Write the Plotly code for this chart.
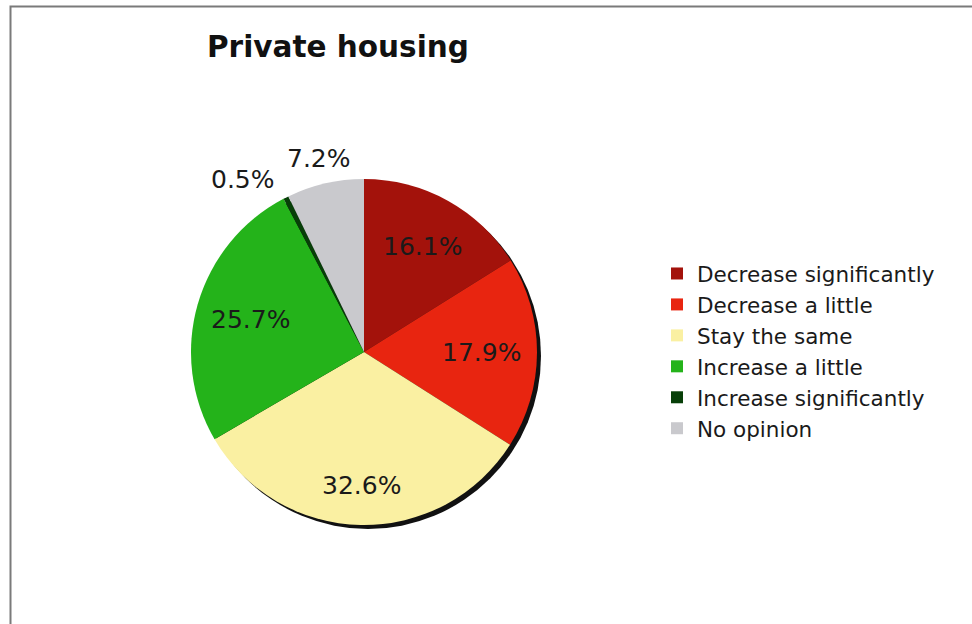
import math
import plotly.graph_objects as go

categories = ["Decrease significantly", "Decrease a little", "Stay the same",
              "Increase a little", "Increase significantly", "No opinion"]
values = [16.1, 17.9, 32.6, 25.7, 0.5, 7.2]
colors = ["#A3120B", "#E82510", "#FAF0A2", "#24B31A", "#073F08", "#C9C9CD"]

# label radius (fraction of pie radius) – styling only
label_radius = [0.70, 0.68, 0.77, 0.68, 1.12, 1.15]

W, H = 972, 624
cx, cy, r = 364, 352, 173

def dom(dx=0, dy=0):
    return dict(x=[(cx - r + dx) / W, (cx + r + dx) / W],
                y=[(H - cy - r - dy) / H, (H - cy + r - dy) / H])

fig = go.Figure()
# shadow
fig.add_trace(go.Pie(values=[1], labels=["shadow"], marker=dict(colors=["#111111"]),
                     domain=dom(4, 4), textinfo="none", hoverinfo="skip",
                     showlegend=False, sort=False))
fig.add_trace(go.Pie(
    labels=categories, values=values, sort=False, direction="clockwise", rotation=0,
    marker=dict(colors=colors, line=dict(width=0)),
    textinfo="none",
    domain=dom(), showlegend=True,
))

# percentage labels placed from the data (mid-angle of each slice)
total = sum(values)
annotations = []
cum = 0.0
for v, k in zip(values, label_radius):
    mid = (cum + v / 2) / total * 2 * math.pi
    cum += v
    s, c = math.sin(mid), math.cos(mid)
    px = cx + k * r * s
    py = cy - k * r * c
    if k > 1 and abs(s) > 0.3:
        xa = "right" if s < 0 else "left"
    else:
        xa = "center"
    annotations.append(dict(x=px / W, y=1 - py / H, xref="paper", yref="paper",
                            text=f"{v:.1f}%", showarrow=False,
                            xanchor=xa, yanchor="middle",
                            font=dict(family="DejaVu Sans", size=25, color="#1a1a1a")))

fig.update_layout(
    width=W, height=H, margin=dict(l=0, r=0, t=0, b=0),
    paper_bgcolor="white", plot_bgcolor="white",
    title=dict(text="<b>Private housing</b>", x=207 / W, xanchor="left",
               y=1 - 47 / H, yanchor="middle",
               font=dict(family="DejaVu Sans", size=29.5, color="#111111")),
    legend=dict(x=657 / W, xanchor="left", y=1 - 253 / H, yanchor="top",
                font=dict(family="DejaVu Sans", size=21.5, color="#1a1a1a"),
                itemwidth=30, tracegroupgap=0, bgcolor="rgba(0,0,0,0)"),
    annotations=annotations,
    shapes=[dict(type="rect", xref="paper", yref="paper",
                 x0=10.5 / W, x1=1.01, y0=-0.01, y1=1 - 6.5 / H,
                 line=dict(color="#7a7a7a", width=2), layer="below")],
)

fig.write_html("out.html", config={"displayModeBar": False},
               post_script="document.body.style.margin='0';")
